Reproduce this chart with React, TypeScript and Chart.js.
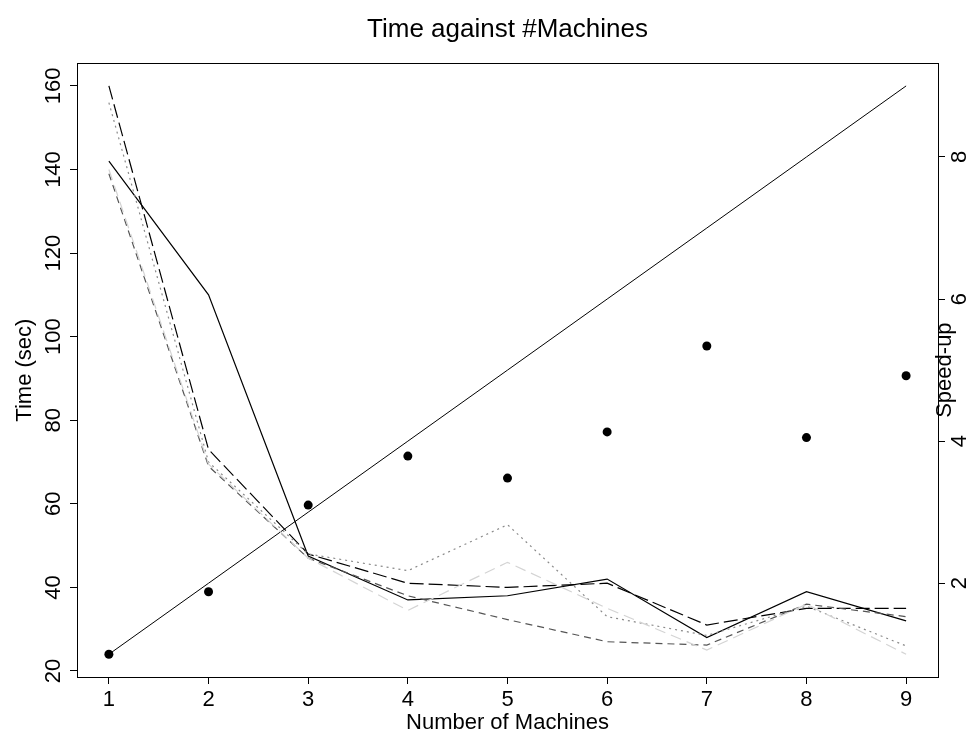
import React, { useEffect, useRef } from "react";
import { Chart, registerables } from "chart.js";

Chart.register(...registerables);

// ---- data ----
const machines = [1, 2, 3, 4, 5, 6, 7, 8, 9];
const timeSolid = [142, 110, 47.5, 37, 38, 42, 28, 39, 32];
const timeLongDash = [160, 73, 48, 41, 40, 41, 31, 35, 35];
const timeDotted = [156, 70, 48, 44, 55, 33, 28.5, 35.5, 26];
const timeShortDash = [139, 69, 47, 38, 32.3, 27, 26.2, 36, 33];
const timeLightDash = [140, 69.5, 47, 34.5, 46, 35, 25, 36, 24];
const idealSpeedup = [1, 2, 3, 4, 5, 6, 7, 8, 9];
const actualSpeedup = [1.0, 1.88, 3.1, 3.79, 3.48, 4.13, 5.34, 4.05, 4.92];

const xTicks = [1, 2, 3, 4, 5, 6, 7, 8, 9];
const timeTicks = [20, 40, 60, 80, 100, 120, 140, 160];
const speedTicks = [2, 4, 6, 8];

const titleText = "Time against #Machines";
const xLabel = "Number of Machines";
const yLabel = "Time (sec)";
const y2Label = "Speed-up";

const FONT = "'Liberation Sans', Arial, Helvetica, sans-serif";

function rRange(values: number[]): [number, number] {
  const lo = Math.min(...values);
  const hi = Math.max(...values);
  const ext = (hi - lo) * 0.04;
  return [lo - ext, hi + ext];
}

const pts = (ys: number[]) => machines.map((x, i) => ({ x, y: ys[i] }));

const boxPlugin = {
  id: "rbox",
  afterDraw(chart: any) {
    const { ctx, chartArea: a } = chart;
    ctx.save();
    ctx.strokeStyle = "#000";
    ctx.lineWidth = 1;
    ctx.strokeRect(
      Math.round(a.left) + 0.5,
      Math.round(a.top) + 0.5,
      Math.round(a.right - a.left),
      Math.round(a.bottom - a.top)
    );
    ctx.translate(a.right + 13, (a.top + a.bottom) / 2);
    ctx.rotate(-Math.PI / 2);
    ctx.font = `22px ${FONT}`;
    ctx.fillStyle = "#000";
    ctx.textAlign = "center";
    ctx.textBaseline = "alphabetic";
    ctx.fillText(y2Label, 0, 0);
    ctx.restore();
  },
};

export default function App() {
  const ref = useRef<HTMLCanvasElement | null>(null);

  useEffect(() => {
    document.body.style.margin = "0";
    const canvas = ref.current;
    if (!canvas) return;

    const [xMin, xMax] = rRange(machines);
    const [tMin, tMax] = rRange([
      ...timeSolid,
      ...timeLongDash,
      ...timeDotted,
      ...timeShortDash,
      ...timeLightDash,
    ]);
    const [sMin, sMax] = rRange([...idealSpeedup, ...actualSpeedup]);

    const lineDs = (data: number[], color: string, dash: number[], width = 1.2) => ({
      data: pts(data),
      borderColor: color,
      borderWidth: width,
      borderDash: dash,
      pointRadius: 0,
      fill: false,
      tension: 0,
      yAxisID: "y",
    });

    const chart = new Chart(canvas, {
      type: "line",
      data: {
        datasets: [
          lineDs(timeLightDash, "#d4d4d4", [11, 6]),
          lineDs(timeDotted, "#8a8a8a", [2, 4]),
          lineDs(timeShortDash, "#555555", [7, 5]),
          lineDs(timeLongDash, "#000000", [14, 5]),
          lineDs(timeSolid, "#000000", []),
          {
            data: pts(idealSpeedup),
            borderColor: "#000",
            borderWidth: 1,
            pointRadius: 0,
            fill: false,
            yAxisID: "y2",
          },
          {
            data: pts(actualSpeedup),
            showLine: false,
            pointRadius: 4.5,
            pointBackgroundColor: "#000",
            pointBorderWidth: 0,
            yAxisID: "y2",
          },
        ] as any,
      },
      options: {
        animation: false,
        responsive: false,
        layout: { padding: 0 },
        plugins: {
          legend: { display: false },
          tooltip: { enabled: false },
          title: {
            display: true,
            text: titleText,
            color: "#000",
            fullSize: false,
            font: { family: FONT, size: 26, weight: "normal" },
            padding: { top: 14, bottom: 18 },
          },
        },
        scales: {
          x: {
            type: "linear",
            position: "bottom",
            min: xMin,
            max: xMax,
            afterBuildTicks: (s: any) => {
              s.ticks = xTicks.map((v) => ({ value: v }));
            },
            afterFit: (s: any) => {
              s.height = 67;
            },
            grid: {
              drawOnChartArea: false,
              drawTicks: true,
              tickLength: 7,
              color: "#000",
            },
            border: { display: true, color: "#000", width: 1 },
            ticks: {
              color: "#000",
              padding: 3,
              font: { family: FONT, size: 22 },
              maxRotation: 0,
              autoSkip: false,
              callback: (v: any) => String(v),
            },
            title: {
              display: true,
              text: xLabel,
              color: "#000",
              font: { family: FONT, size: 22 },
              padding: { top: 0, bottom: 8 },
            },
          },
          y: {
            type: "linear",
            position: "left",
            min: tMin,
            max: tMax,
            afterBuildTicks: (s: any) => {
              s.ticks = timeTicks.map((v) => ({ value: v }));
            },
            afterFit: (s: any) => {
              s.width = 77;
            },
            grid: {
              drawOnChartArea: false,
              drawTicks: true,
              tickLength: 7,
              color: "#000",
            },
            border: { display: true, color: "#000", width: 1 },
            ticks: {
              color: "#000",
              padding: -2,
              minRotation: 90,
              maxRotation: 90,
              crossAlign: "center",
              autoSkip: false,
              font: { family: FONT, size: 22 },
              callback: (v: any) => String(v),
            },
            title: {
              display: true,
              text: yLabel,
              color: "#000",
              font: { family: FONT, size: 22 },
              padding: { top: 12, bottom: 0 },
            },
          },
          y2: {
            type: "linear",
            position: "right",
            min: sMin,
            max: sMax,
            afterBuildTicks: (s: any) => {
              s.ticks = speedTicks.map((v) => ({ value: v }));
            },
            afterFit: (s: any) => {
              s.width = 34;
            },
            grid: {
              drawOnChartArea: false,
              drawTicks: true,
              tickLength: 7,
              color: "#000",
            },
            border: { display: true, color: "#000", width: 1 },
            ticks: {
              color: "#000",
              padding: 9,
              minRotation: 90,
              maxRotation: 90,
              crossAlign: "center",
              autoSkip: false,
              font: { family: FONT, size: 22 },
              callback: (v: any) => String(v),
            },
          },
        },
      } as any,
      plugins: [boxPlugin],
    });

    return () => chart.destroy();
  }, []);

  return (
    <div style={{ width: 972, height: 744, background: "#fff" }}>
      <canvas ref={ref} width={972} height={744} style={{ display: "block" }} />
    </div>
  );
}
